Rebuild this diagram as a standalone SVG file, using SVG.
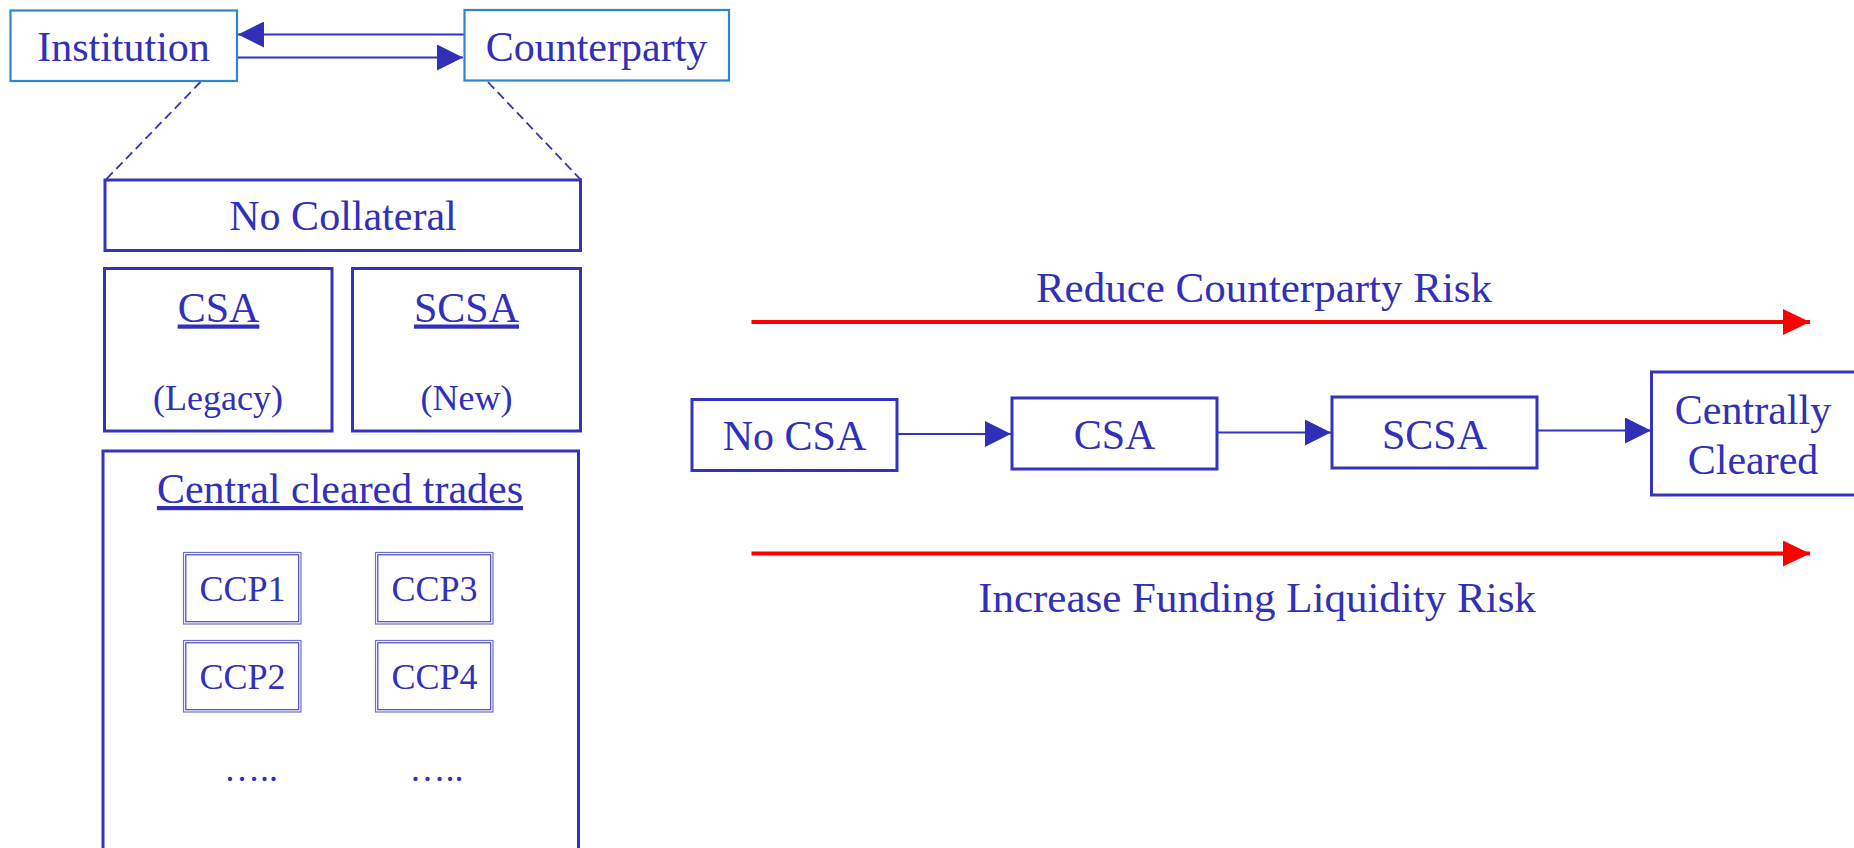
<svg xmlns="http://www.w3.org/2000/svg" width="1854" height="848" viewBox="0 0 1854 848">
  <style>
    text { font-family: "Liberation Serif", "Times New Roman", serif; fill: #3030b8; text-anchor: middle; }
    .t42 { font-size: 42px; }
    .t43 { font-size: 43px; }
    .t36 { font-size: 36px; }
    .u { text-decoration: underline; }
    .party { fill: #ffffff; stroke: #2a86d4; stroke-width: 2.2; }
    .box { fill: #ffffff; stroke: #3333bb; stroke-width: 3; }
    .ccp-out { fill: #ffffff; stroke: #6f6fd0; stroke-width: 1.2; }
    .ccp-in { fill: none; stroke: #4646c0; stroke-width: 1.2; }
    .link { stroke: #3333bb; stroke-width: 2; fill: none; }
    .dash { stroke: #3333bb; stroke-width: 1.8; stroke-dasharray: 9 5; fill: none; }
    .risk { stroke: #ff0000; stroke-width: 4; fill: none; }
  </style>
  <defs>
    <marker id="head" markerUnits="userSpaceOnUse" markerWidth="26" markerHeight="26" refX="26" refY="13" orient="auto">
      <path d="M0,0 L26,13 L0,26 Z" fill="#2f2fb8"/>
    </marker>
    <marker id="redhead" markerUnits="userSpaceOnUse" markerWidth="27" markerHeight="27" refX="27" refY="13" orient="auto">
      <path d="M0,0 L27,13 L0,26 Z" fill="#ff0000"/>
    </marker>
  </defs>

  <rect width="1854" height="848" fill="#ffffff"/>

  <!-- connectors -->
  <g id="connectors">
    <line class="link" x1="464" y1="34.5" x2="238" y2="34.5" marker-end="url(#head)"/>
    <line class="link" x1="238" y1="57.5" x2="463" y2="57.5" marker-end="url(#head)"/>
    <line class="dash" x1="200.5" y1="82" x2="105.5" y2="180"/>
    <line class="dash" x1="488" y1="82" x2="581" y2="180"/>
    <line class="link" x1="897" y1="434" x2="1011" y2="434" marker-end="url(#head)"/>
    <line class="link" x1="1217" y1="432.5" x2="1331" y2="432.5" marker-end="url(#head)"/>
    <line class="link" x1="1537" y1="430.5" x2="1651" y2="430.5" marker-end="url(#head)"/>
    <line class="risk" x1="751.5" y1="322" x2="1810" y2="322" marker-end="url(#redhead)"/>
    <line class="risk" x1="751.5" y1="553.5" x2="1810" y2="553.5" marker-end="url(#redhead)"/>
  </g>

  <!-- trading parties -->
  <g id="institution">
    <rect class="party" x="10.5" y="10.5" width="226.5" height="70.5"/>
    <text class="t42" x="123.5" y="61">Institution</text>
  </g>
  <g id="counterparty">
    <rect class="party" x="464.5" y="10" width="264.5" height="70.5"/>
    <text class="t42" x="596.5" y="61">Counterparty</text>
  </g>

  <!-- netting set breakdown -->
  <g id="no-collateral">
    <rect class="box" x="105" y="180" width="475.5" height="70.5"/>
    <text class="t42" x="343" y="230">No Collateral</text>
  </g>
  <g id="csa-legacy">
    <rect class="box" x="104.5" y="268.5" width="227.5" height="162.5"/>
    <text class="t42 u" x="218.5" y="321.5">CSA</text>
    <text class="t36" x="218" y="410">(Legacy)</text>
  </g>
  <g id="scsa-new">
    <rect class="box" x="352.5" y="268.5" width="228" height="162.5"/>
    <text class="t42 u" x="466.5" y="321.5">SCSA</text>
    <text class="t36" x="466.5" y="410">(New)</text>
  </g>
  <g id="central-cleared">
    <rect class="box" x="103" y="451" width="475.5" height="460"/>
    <text class="t42 u" x="340" y="503">Central cleared trades</text>
  </g>
  <g id="ccp1">
    <rect class="ccp-out" x="183.5" y="552.5" width="117.5" height="71.5"/>
    <rect class="ccp-in" x="185.8" y="554.8" width="112.9" height="66.9"/>
    <text class="t36" x="242.5" y="601">CCP1</text>
  </g>
  <g id="ccp2">
    <rect class="ccp-out" x="183.5" y="640.5" width="117.5" height="71.5"/>
    <rect class="ccp-in" x="185.8" y="642.8" width="112.9" height="66.9"/>
    <text class="t36" x="242.5" y="689">CCP2</text>
  </g>
  <g id="ccp3">
    <rect class="ccp-out" x="375.5" y="552.5" width="117.5" height="71.5"/>
    <rect class="ccp-in" x="377.8" y="554.8" width="112.9" height="66.9"/>
    <text class="t36" x="434.5" y="601">CCP3</text>
  </g>
  <g id="ccp4">
    <rect class="ccp-out" x="375.5" y="640.5" width="117.5" height="71.5"/>
    <rect class="ccp-in" x="377.8" y="642.8" width="112.9" height="66.9"/>
    <text class="t36" x="434.5" y="689">CCP4</text>
  </g>
  <g id="more-ccps">
    <text class="t36" x="224" y="781" style="text-anchor: start">…..</text>
    <text class="t36" x="409.5" y="781" style="text-anchor: start">…..</text>
  </g>

  <!-- collateral progression -->
  <g id="no-csa">
    <rect class="box" x="692" y="399.5" width="205" height="71"/>
    <text class="t42" x="794.5" y="450">No CSA</text>
  </g>
  <g id="csa">
    <rect class="box" x="1012" y="398" width="205" height="71"/>
    <text class="t42" x="1114.5" y="448.5">CSA</text>
  </g>
  <g id="scsa">
    <rect class="box" x="1332" y="397" width="205" height="71"/>
    <text class="t42" x="1434.5" y="448.5">SCSA</text>
  </g>
  <g id="centrally-cleared">
    <rect class="box" x="1651.5" y="372" width="260" height="123"/>
    <text class="t42" x="1753" y="423.5">Centrally</text>
    <text class="t42" x="1753" y="473.5">Cleared</text>
  </g>

  <g id="risk-labels">
    <text class="t43" x="1264" y="302">Reduce Counterparty Risk</text>
    <text class="t43" x="1257" y="612">Increase Funding Liquidity Risk</text>
  </g>
</svg>
